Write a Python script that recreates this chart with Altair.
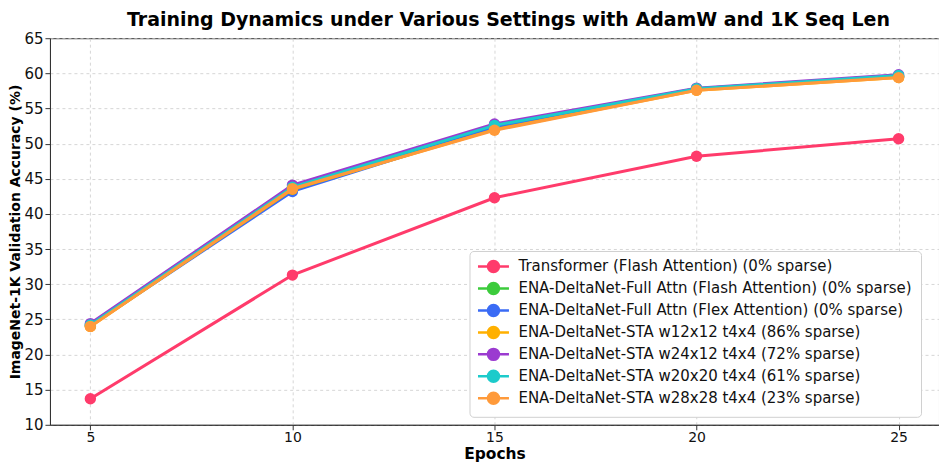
import altair as alt
import pandas as pd

epochs = [5, 10, 15, 20, 25]
series_names = [
    "Transformer (Flash Attention) (0% sparse)",
    "ENA-DeltaNet-Full Attn (Flash Attention) (0% sparse)",
    "ENA-DeltaNet-Full Attn (Flex Attention) (0% sparse)",
    "ENA-DeltaNet-STA w12x12 t4x4 (86% sparse)",
    "ENA-DeltaNet-STA w24x12 t4x4 (72% sparse)",
    "ENA-DeltaNet-STA w20x20 t4x4 (61% sparse)",
    "ENA-DeltaNet-STA w28x28 t4x4 (23% sparse)",
]
transformer = [13.7, 31.3, 42.3, 48.2, 50.7]
full_flash = [24.2, 43.6, 52.5, 57.8, 59.6]
full_flex = [24.1, 43.2, 52.3, 57.7, 59.5]
sta_w12 = [24.0, 43.5, 52.0, 57.6, 59.4]
sta_w24 = [24.4, 44.1, 52.8, 57.9, 59.8]
sta_w20 = [24.2, 43.8, 52.6, 57.8, 59.7]
sta_w28 = [24.0, 43.6, 51.9, 57.6, 59.4]
colors = ["#FF3B6B", "#3CCB3C", "#3A6BF5", "#FFB000", "#9B3BD0", "#1CCBCB", "#FF9A3A"]

all_series = [transformer, full_flash, full_flex, sta_w12, sta_w24, sta_w20, sta_w28]
rows = []
for i, (name, vals) in enumerate(zip(series_names, all_series)):
    for e, v in zip(epochs, vals):
        rows.append({"Series": name, "Epoch": e, "Acc": v, "order": i})
df = pd.DataFrame(rows)

sym = "M-3.1,0L-1.1,0M1.1,0L3.1,0M-1.1,0A1.1,1.1 0 1,1 1.1,0A1.1,1.1 0 1,1 -1.1,0Z"

color = alt.Color(
    "Series:N",
    scale=alt.Scale(domain=series_names, range=colors),
    sort=series_names,
    legend=alt.Legend(
        title=None,
        orient="none",
        legendX=420,
        legendY=213,
        symbolType=sym,
        symbolSize=100,
        symbolStrokeWidth=2.5,
        symbolOffset=8.5,
        labelOffset=17.5,
        labelFontSize=15,
        labelFont="DejaVu Sans",
        labelColor="#111",
        rowPadding=1,
        padding=8,
        fillColor="white",
        strokeColor="#d0d0d0",
        cornerRadius=4,
        labelLimit=600,
        symbolOpacity=1,
    ),
)

x = alt.X(
    "Epoch:Q",
    scale=alt.Scale(domain=[4, 26], nice=False),
    axis=alt.Axis(values=epochs, title="Epochs", grid=True, labelPadding=1, titlePadding=1.5,
                  labelFontSize=14),
)
y = alt.Y(
    "Acc:Q",
    scale=alt.Scale(domain=[10, 65], nice=False),
    axis=alt.Axis(values=list(range(10, 66, 5)), title="ImageNet-1K Validation Accuracy (%)", grid=True,
                  labelPadding=2, titlePadding=1.5),
)

lines = alt.Chart(df).mark_line(strokeWidth=3).encode(
    x=x, y=y, color=color, order="order:Q", detail="Series:N"
)
points = alt.Chart(df).mark_point(filled=True, size=130, opacity=1).encode(
    x=x, y=y, color=alt.Color("Series:N", scale=alt.Scale(domain=series_names, range=colors), legend=None)
)

layers = []
for name in series_names:
    layers.append(lines.transform_filter(alt.datum.Series == name))
    layers.append(points.transform_filter(alt.datum.Series == name))

chart = alt.layer(*layers).properties(
    width=890,
    height=387,
    title=alt.TitleParams(
        "Training Dynamics under Various Settings with AdamW and 1K Seq Len",
        font="DejaVu Sans", fontSize=19, fontWeight="bold", color="#000", offset=1, dx=14,
    ),
    autosize=alt.AutoSizeParams(type="none"),
    padding={"left": 42, "top": 30, "right": 0, "bottom": 37},
).configure_view(
    stroke="#333", strokeWidth=1
).configure_axis(
    labelFont="DejaVu Sans", labelFontSize=15, labelColor="#111",
    titleFont="DejaVu Sans", titleFontWeight="bold", titleColor="#000",
    gridColor="#cccccc", gridDash=[3, 3], gridWidth=0.8,
    domainColor="#333", tickColor="#333", tickSize=5,
).configure_axisX(titleFontSize=15.5).configure_axisY(titleFontSize=14)

chart.save("out.html", embed_options={"renderer": "svg", "actions": False})
